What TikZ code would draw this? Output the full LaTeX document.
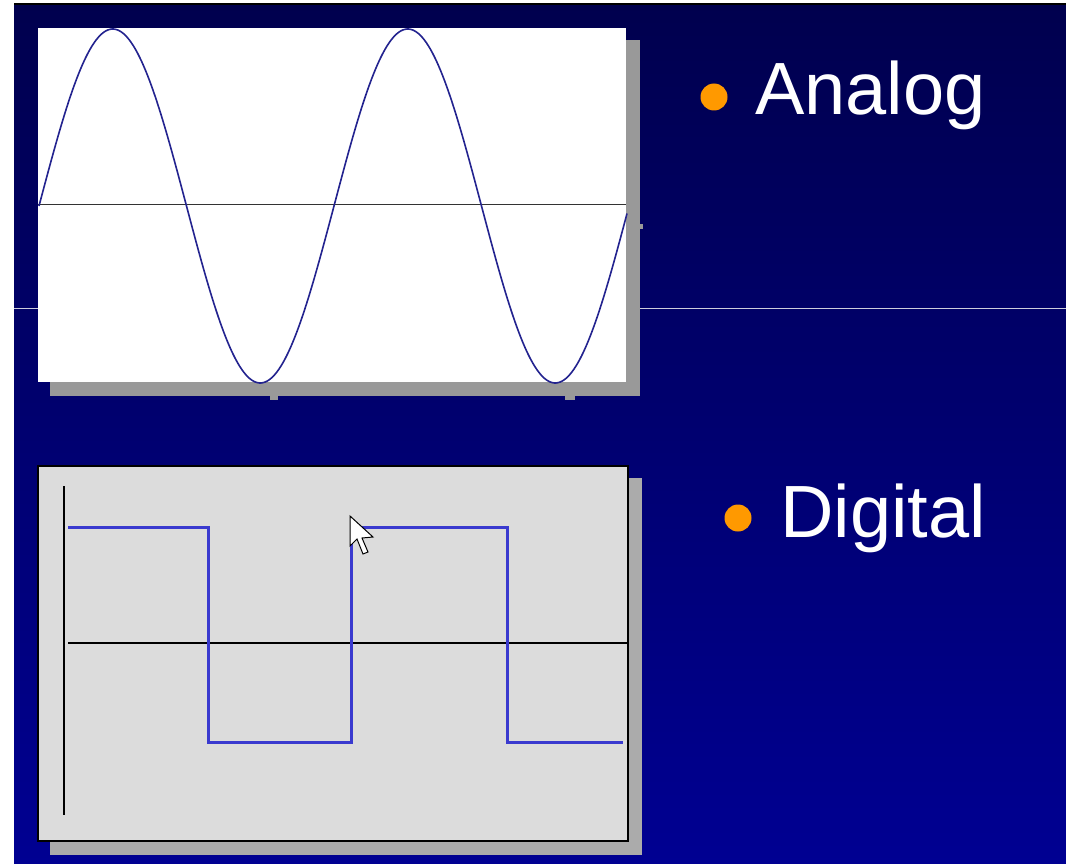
\documentclass[tikz,border=0pt]{standalone}
\usepackage{fontspec}
\setmainfont{Liberation Sans}
\definecolor{navytop}{HTML}{00004E}
\definecolor{navybot}{HTML}{000092}
\definecolor{sinecol}{HTML}{23238F}
\definecolor{sqcol}{HTML}{3A3ACF}
\definecolor{shadowA}{HTML}{999999}
\definecolor{shadowB}{HTML}{ABABAB}
\definecolor{panelB}{HTML}{DCDCDC}
\definecolor{bulletcol}{HTML}{FF9900}
\begin{document}
\begin{tikzpicture}[x=1pt,y=-1pt,
  label/.style={text=white,font=\fontsize{74}{80}\selectfont,anchor=base west,inner sep=0pt},
  bullet/.style={circle,fill=bulletcol,inner sep=0pt,minimum size=27pt},
  axis/.style={black,line width=1.3pt}]
\useasboundingbox (0,0) rectangle (1066,864);
\fill[white] (0,0) rectangle (1066,864);
\shade[top color=navytop,bottom color=navybot] (14,4) rectangle (1066,864);
\draw[black,line width=2pt] (14,4) -- (1066,4);
\draw[white!80!navytop,line width=0.8pt] (14,308) -- (1066,308);
% analog panel
\fill[shadowA] (50,40) rectangle (640,396);
\fill[shadowA] (270,394) rectangle (278,400);
\fill[shadowA] (565,394) rectangle (575,400);
\fill[shadowA] (638,224) rectangle (643,229);
\node[draw=none,fill=white,minimum width=588pt,minimum height=354pt,inner sep=0pt,anchor=north west] (apanel) at (38,28) {};
\draw[black!80,line width=1pt] (apanel.west) ++(0,-1) coordinate (ax0) -- (apanel.east |- ax0) coordinate (ax1);
\draw[sinecol,line width=1.6pt] plot[domain=0:588,samples=300] ({39+\x},{206-177*sin(\x*1.220339)});
% digital panel
\fill[shadowB] (50,478) rectangle (642,855);
\node[draw=black,line width=1.5pt,fill=panelB,minimum width=590pt,minimum height=375pt,inner sep=0pt,anchor=north west] (dpanel) at (37,465) {};
\coordinate (vtop) at (64,486);
\coordinate (vbot) at (64,815);
\draw[axis] (vtop) -- (vbot);
\coordinate (hl) at (68,643);
\draw[axis] (hl) -- (dpanel.east |- hl);
\coordinate (s0) at (68,527);
\draw[sqcol,line width=3pt] (s0) -- (208,527) -- (208,742) -- (351,742) -- (351,527) -- (507,527) -- (507,742) -- (623,742);
% cursor
\coordinate (tip) at (350,516);
\draw[black,fill=white,line width=1pt,line join=miter] (tip) -- ++(0,30) -- ++(7,-7) -- ++(6,15) -- ++(5,-2) -- ++(-6,-14) -- ++(11,-1) -- cycle;
% labels
\node[bullet] (b1) at (714,97) {};
\node[label] (t1) at (755,115) {Analog};
\node[bullet] (b2) at (738,518) {};
\node[label] (t2) at (780,537) {Digital};
\end{tikzpicture}
\end{document}
